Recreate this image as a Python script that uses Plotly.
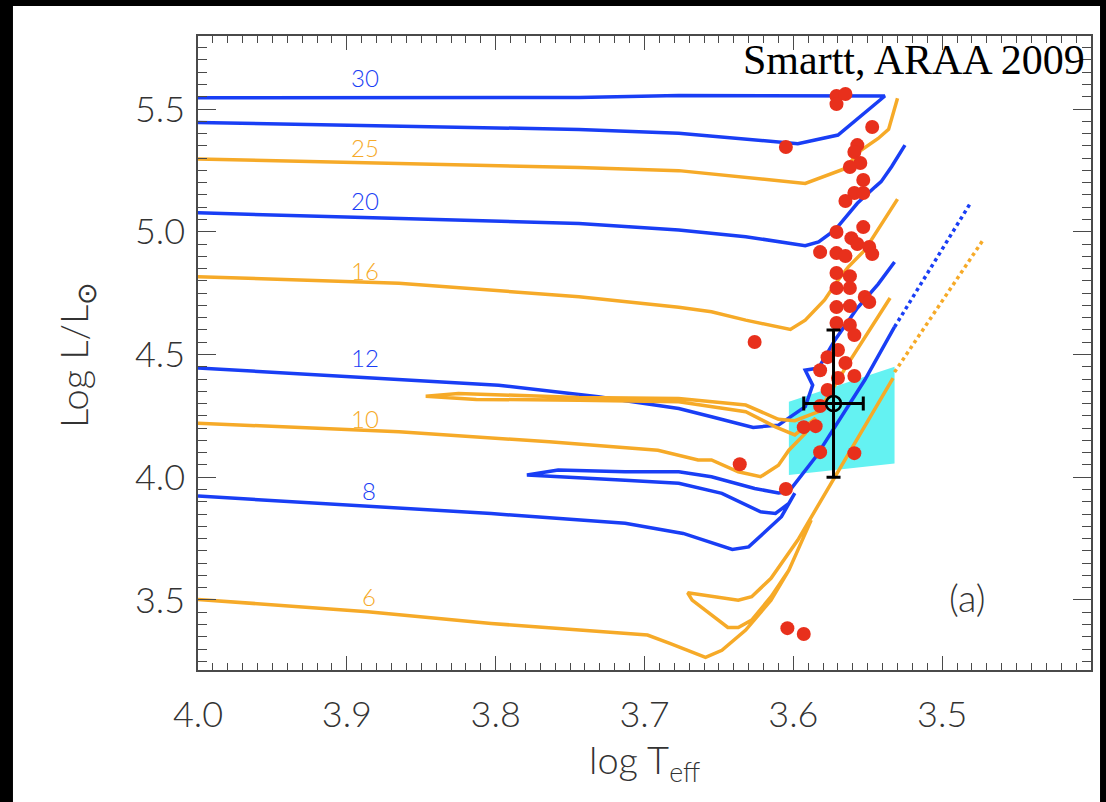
import plotly.graph_objects as go

# ---------------- data (log Teff, log L/Lsun) ----------------
track30_T = [4.000, 3.744, 3.677, 3.610, 3.597, 3.570, 3.5385, 3.677, 3.744, 4.000]
track30_L = [5.445, 5.417, 5.401, 5.368, 5.359, 5.394, 5.553, 5.555, 5.547, 5.546]

track25_T = [4.000, 3.744, 3.677, 3.592, 3.565, 3.556, 3.543, 3.536, 3.530]
track25_L = [5.296, 5.262, 5.249, 5.197, 5.258, 5.326, 5.380, 5.417, 5.544]

track20_T = [4.000, 3.744, 3.677, 3.632, 3.592, 3.583, 3.572, 3.557, 3.545, 3.541, 3.534, 3.525]
track20_L = [5.077, 5.034, 5.007, 4.980, 4.943, 4.959, 5.007, 5.116, 5.183, 5.204, 5.265, 5.353]

track16_T = [4.000, 3.865, 3.744, 3.677, 3.655, 3.632, 3.602, 3.592, 3.579, 3.570, 3.563, 3.552, 3.530]
track16_L = [4.817, 4.790, 4.735, 4.692, 4.674, 4.640, 4.602, 4.640, 4.722, 4.803, 4.857, 4.925, 5.133]

track12_T = [4.000, 3.865, 3.798, 3.731, 3.677, 3.655, 3.627, 3.610, 3.603, 3.592, 3.587,
             3.592, 3.583, 3.572, 3.557, 3.543, 3.532]
track12_L = [4.445, 4.399, 4.375, 4.328, 4.280, 4.246, 4.203, 4.212, 4.241, 4.287, 4.375,
             4.436, 4.445, 4.559, 4.689, 4.787, 4.877]

track10_T = [4.000, 3.865, 3.764, 3.691, 3.664, 3.655, 3.637, 3.622, 3.610, 3.603, 3.592, 3.585,
             3.599, 3.612, 3.632, 3.677, 3.744, 3.813, 3.847, 3.825, 3.744, 3.677, 3.632,
             3.610, 3.599, 3.583, 3.563, 3.535]
track10_L = [4.220, 4.185, 4.144, 4.110, 4.070, 4.070, 4.022, 4.002, 4.049, 4.110, 4.178, 4.241,
             4.172, 4.205, 4.267, 4.307, 4.314, 4.317, 4.330, 4.341, 4.325, 4.321, 4.294,
             4.236, 4.230, 4.267, 4.465, 4.730]

track8_T = [4.000, 3.892, 3.803, 3.713, 3.674, 3.641, 3.630, 3.608, 3.599,
            3.603, 3.612, 3.622, 3.648, 3.677, 3.713, 3.779, 3.758, 3.713, 3.677,
            3.655, 3.626, 3.610, 3.603, 3.585, 3.552, 3.532]
track8_L = [3.923, 3.886, 3.852, 3.812, 3.771, 3.706, 3.716, 3.839, 3.935,
            3.893, 3.852, 3.859, 3.934, 3.975, 3.988, 4.009, 4.029, 4.022, 4.022,
            4.002, 3.954, 3.936, 3.941, 4.082, 4.396, 4.612]

track6_T = [4.000, 3.886, 3.803, 3.698, 3.683, 3.659, 3.648, 3.632, 3.615, 3.603, 3.588,
            3.603, 3.615, 3.628, 3.637, 3.644, 3.668, 3.671, 3.637, 3.628, 3.615, 3.603,
            3.597, 3.533]
track6_L = [3.502, 3.452, 3.404, 3.357, 3.323, 3.266, 3.295, 3.377, 3.499, 3.621, 3.825,
            3.621, 3.513, 3.418, 3.388, 3.388, 3.499, 3.529, 3.499, 3.513, 3.588, 3.690,
            3.744, 4.404]

ext_blue_T = [3.532, 3.481]
ext_blue_L = [4.612, 5.117]
ext_orange_T = [3.532, 3.473]
ext_orange_L = [4.428, 4.962]

# progenitor detections / limits (red points)
stars_T = [3.571, 3.565, 3.571, 3.547, 3.605, 3.557, 3.559, 3.555, 3.562, 3.553,
           3.559, 3.553, 3.565, 3.553, 3.571, 3.561, 3.557, 3.549, 3.547, 3.582,
           3.571, 3.565, 3.571, 3.562, 3.571, 3.562, 3.552, 3.549, 3.571, 3.562,
           3.571, 3.562, 3.559, 3.626, 3.570, 3.577, 3.565, 3.582, 3.559, 3.570,
           3.577, 3.582, 3.593, 3.585, 3.582, 3.559, 3.636, 3.605, 3.604, 3.593]
stars_L = [5.553, 5.561, 5.520, 5.427, 5.345, 5.353, 5.325, 5.280, 5.264, 5.211,
           5.158, 5.158, 5.125, 5.019, 4.999, 4.974, 4.950, 4.938, 4.909, 4.917,
           4.913, 4.901, 4.832, 4.819, 4.771, 4.771, 4.734, 4.714, 4.693, 4.697,
           4.628, 4.620, 4.579, 4.551, 4.518, 4.489, 4.465, 4.436, 4.412, 4.404,
           4.355, 4.290, 4.204, 4.208, 4.102, 4.098, 4.053, 3.952, 3.385, 3.361]

# RSG region (cyan box)
box_T = [3.603, 3.532, 3.532, 3.603, 3.603]
box_L = [4.307, 4.450, 4.056, 4.009, 4.307]

# mean progenitor with error bars
mean_T = [3.573]
mean_L = [4.30]
mean_T_err = [0.02]
mean_L_err = [0.30]

# mass labels
mass_labels = ["30", "25", "20", "16", "12", "10", "8", "6"]
mass_label_T = [3.888, 3.888, 3.888, 3.888, 3.888, 3.888, 3.885, 3.885]
mass_label_L = [5.630, 5.345, 5.129, 4.844, 4.489, 4.241, 3.947, 3.515]

x_tick_vals = [4.0, 3.9, 3.8, 3.7, 3.6, 3.5]
x_tick_text = ["4.0", "3.9", "3.8", "3.7", "3.6", "3.5"]
y_tick_vals = [3.5, 4.0, 4.5, 5.0, 5.5]
y_tick_text = ["3.5", "4.0", "4.5", "5.0", "5.5"]

# ---------------- styling ----------------
BLUE = "rgb(25,62,245)"
ORANGE = "rgb(246,170,40)"
RED = "rgb(232,48,28)"
CYAN = "rgb(100,242,242)"
AXC = "#4a4a4a"
TXT = "#333333"
FONT = "Lato"

tracks = [
    (track30_T, track30_L, BLUE),
    (track25_T, track25_L, ORANGE),
    (track20_T, track20_L, BLUE),
    (track16_T, track16_L, ORANGE),
    (track12_T, track12_L, BLUE),
    (track10_T, track10_L, ORANGE),
    (track8_T, track8_L, BLUE),
    (track6_T, track6_L, ORANGE),
]
label_colors = [BLUE, ORANGE, BLUE, ORANGE, BLUE, ORANGE, BLUE, ORANGE]

fig = go.Figure()

fig.add_trace(go.Scatter(x=box_T, y=box_L, mode="lines", fill="toself",
                         fillcolor=CYAN, line=dict(width=0, color=CYAN),
                         hoverinfo="skip", showlegend=False))

for T, L, c in tracks:
    fig.add_trace(go.Scatter(x=T, y=L, mode="lines",
                             line=dict(color=c, width=3.5),
                             showlegend=False))

fig.add_trace(go.Scatter(x=ext_blue_T, y=ext_blue_L, mode="lines",
                         line=dict(color=BLUE, width=3.5, dash="dot"), showlegend=False))
fig.add_trace(go.Scatter(x=ext_orange_T, y=ext_orange_L, mode="lines",
                         line=dict(color=ORANGE, width=3.5, dash="dot"), showlegend=False))

fig.add_trace(go.Scatter(x=stars_T, y=stars_L, mode="markers",
                         marker=dict(color=RED, size=14, line=dict(width=0)),
                         showlegend=False))

fig.add_trace(go.Scatter(
    x=mean_T, y=mean_L, mode="markers",
    marker=dict(symbol="circle-open", size=15, color="black", line=dict(width=2.5, color="black")),
    error_x=dict(type="data", array=mean_T_err, color="black", thickness=3, width=7),
    error_y=dict(type="data", array=mean_L_err, color="black", thickness=3, width=7),
    showlegend=False))

for txt, tx, ty, c in zip(mass_labels, mass_label_T, mass_label_L, label_colors):
    fig.add_annotation(x=tx, y=ty, text=txt, showarrow=False,
                       font=dict(family=FONT, size=24, color=c, weight=300))

# page background: black frame with white page
fig.add_shape(type="rect", xref="paper", yref="paper",
              x0=-0.2072, x1=1.0101, y0=-0.2082, y1=1.0473,
              fillcolor="white", line=dict(width=0), layer="below")

fig.add_annotation(xref="paper", yref="paper", x=0.9955, y=0.962,
                   xanchor="right", yanchor="middle", showarrow=False,
                   text="Smartt, ARAA 2009",
                   font=dict(family="Liberation Serif", size=42, color="black"))
fig.add_annotation(xref="paper", yref="paper", x=0.885, y=0.075,
                   showarrow=False, text="(a)",
                   font=dict(family=FONT, size=38, color=TXT, weight=300))
fig.add_annotation(xref="paper", yref="paper", x=-0.168, y=0.497,
                   showarrow=False, textangle=-90,
                   text="Log L/L<sub>⊙</sub>",
                   font=dict(family=FONT, size=38, color=TXT, weight=300))
fig.add_annotation(xref="paper", yref="paper", x=0.5, y=-0.19,
                   showarrow=False, text="log T<sub>eff</sub>",
                   font=dict(family=FONT, size=38, color=TXT, weight=300))

axis_common = dict(showline=True, linecolor=AXC, linewidth=1.5, mirror="allticks",
                   ticks="inside", tickcolor=AXC, tickwidth=1.2,
                   showgrid=False, zeroline=False,
                   tickfont=dict(family=FONT, size=36, color=TXT, weight=300))

fig.update_xaxes(range=[4.0, 3.4], tickmode="array", tickvals=x_tick_vals,
                 ticktext=x_tick_text, ticklen=14, ticklabelstandoff=12,
                 minor=dict(tickmode="linear", tick0=3.4, dtick=0.01, ticks="inside",
                            ticklen=7, tickcolor=AXC, tickwidth=1.2, showgrid=False),
                 **axis_common)
fig.update_yaxes(range=[3.2145, 5.7975], tickmode="array", tickvals=y_tick_vals,
                 ticktext=y_tick_text, ticklen=18, ticklabelstandoff=4,
                 minor=dict(tickmode="linear", tick0=3.5, dtick=0.05, ticks="inside",
                            ticklen=9, tickcolor=AXC, tickwidth=1.2, showgrid=False),
                 **axis_common)

fig.update_layout(width=1106, height=802, autosize=False,
                  margin=dict(l=198, r=15, t=36, b=132),
                  paper_bgcolor="black", plot_bgcolor="white",
                  showlegend=False)

fig.write_html("out.html", config={"displayModeBar": False},
               post_script="document.body.style.margin='0px';document.body.style.padding='0px';document.body.style.overflow='hidden';")
